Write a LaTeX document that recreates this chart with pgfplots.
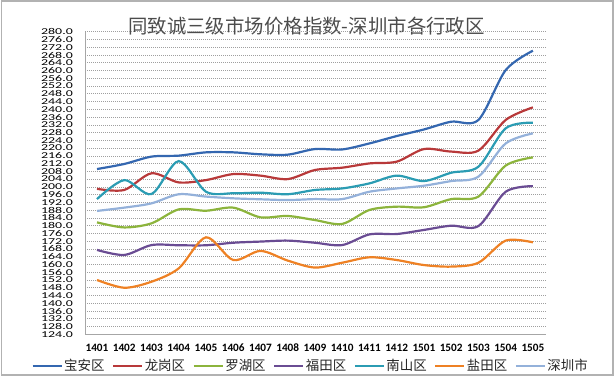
\documentclass[border=0pt]{standalone}
\usepackage{pgfplots}
\pgfplotsset{compat=1.18}
\usepackage{graphicx}
\usepackage{fontspec}
\setmainfont{Carlito}
\newfontfamily\cjk{Noto Sans CJK SC}
\definecolor{cBA}{HTML}{3467B0}
\definecolor{cLG}{HTML}{B8393A}
\definecolor{cLH}{HTML}{8CB43C}
\definecolor{cFT}{HTML}{6A4C93}
\definecolor{cNS}{HTML}{2B9CB3}
\definecolor{cYT}{HTML}{EE8124}
\definecolor{cSZ}{HTML}{94B1DA}
\begin{document}
\begin{tikzpicture}
\useasboundingbox (0,0) rectangle (615bp,377bp);
\draw[gray!60, line width=1.5bp] (1.5bp,2bp) rectangle (613bp,376bp);
\node[font=\cjk\fontsize{19.5}{20}\selectfont, text=black!70] at (306.5bp,350.5bp) {同致诚三级市场价格指数-深圳市各行政区};
\begin{axis}[
  at={(85bp,42.7bp)}, anchor=south west, scale only axis,
  width=461bp, height=302.6bp,
  xmin=-0.44, xmax=16.48, ymin=124, ymax=280,
  xtick={0,...,16},
  xticklabels={1401,1402,1403,1404,1405,1406,1407,1408,1409,1410,1411,1412,1501,1502,1503,1504,1505},
  ytick={124,128,...,280},
  yticklabel={\scalebox{1.55}[1]{\pgfmathprintnumber[fixed,fixed zerofill,precision=1]{\tick}}},
  /pgf/number format/assume math mode=true,
  axis lines*=left,
  axis line style={draw=gray!70, line width=0.8bp, -},
  major tick length=0pt,
  ymajorgrids,
  major grid style={gray!75, line width=0.6bp, dash pattern=on 1bp off 1bp},
  xticklabel style={font=\bfseries\fontsize{11.3}{12}\selectfont, yshift=-6bp},
  yticklabel style={font=\fontsize{9}{9}\selectfont, xshift=-12bp, inner sep=0pt},
  legend columns=7,
  legend style={at={(0.489,-0.104)}, anchor=center, draw=none, fill=none,
    font=\cjk\fontsize{13.5}{14}\selectfont, text=black!85,
    /tikz/every even column/.append style={column sep=6bp},
    inner sep=0pt, nodes={inner sep=1.5bp}},
  legend image code/.code={\draw[#1] (0bp,0bp) -- (29bp,0bp);},
  every axis plot/.append style={smooth, line width=2.2bp, mark=none},
]
\addplot[cBA] coordinates {(0,209.2)(1,211.8)(2,215.6)(3,216.1)(4,217.8)(5,217.8)(6,216.8)(7,216.6)(8,219.5)(9,219.3)(10,222.4)(11,226.2)(12,229.6)(13,233.6)(14,234.5)(15,260.2)(16,270.2)};
\addlegendentry{宝安区}
\addplot[cLG] coordinates {(0,199.0)(1,198.4)(2,207.0)(3,202.3)(4,203.5)(5,206.6)(6,205.8)(7,204.0)(8,208.7)(9,209.9)(10,212.1)(11,213.0)(12,219.5)(13,218.2)(14,218.7)(15,234.5)(16,241.0)};
\addlegendentry{龙岗区}
\addplot[cLH] coordinates {(0,181.7)(1,179.1)(2,181.2)(3,188.4)(4,187.7)(5,189.3)(6,184.3)(7,185.0)(8,182.9)(9,180.9)(10,188.1)(11,189.8)(12,189.5)(13,193.7)(14,195.0)(15,211.0)(16,215.2)};
\addlegendentry{罗湖区}
\addplot[cFT] coordinates {(0,167.5)(1,164.9)(2,170.0)(3,169.9)(4,169.9)(5,171.2)(6,171.8)(7,172.3)(8,171.2)(9,170.0)(10,175.5)(11,175.7)(12,177.8)(13,180.0)(14,179.8)(15,197.5)(16,200.4)};
\addlegendentry{福田区}
\addplot[cNS] coordinates {(0,193.7)(1,203.5)(2,196.3)(3,213.3)(4,197.5)(5,196.7)(6,197.0)(7,196.2)(8,198.4)(9,199.2)(10,201.8)(11,205.8)(12,203.0)(13,207.3)(14,210.4)(15,230.2)(16,233.1)};
\addlegendentry{南山区}
\addplot[cYT] coordinates {(0,152.0)(1,148.0)(2,151.1)(3,158.0)(4,174.0)(5,162.3)(6,167.0)(7,162.0)(8,158.4)(9,160.9)(10,163.7)(11,162.3)(12,159.7)(13,158.9)(14,160.9)(15,172.3)(16,171.4)};
\addlegendentry{盐田区}
\addplot[cSZ] coordinates {(0,187.6)(1,189.3)(2,191.5)(3,196.2)(4,195.0)(5,194.1)(6,193.6)(7,193.2)(8,193.7)(9,193.7)(10,197.5)(11,199.2)(12,200.6)(13,203.0)(14,205.3)(15,222.4)(16,227.6)};
\addlegendentry{深圳市}
\end{axis}
\end{tikzpicture}
\end{document}
